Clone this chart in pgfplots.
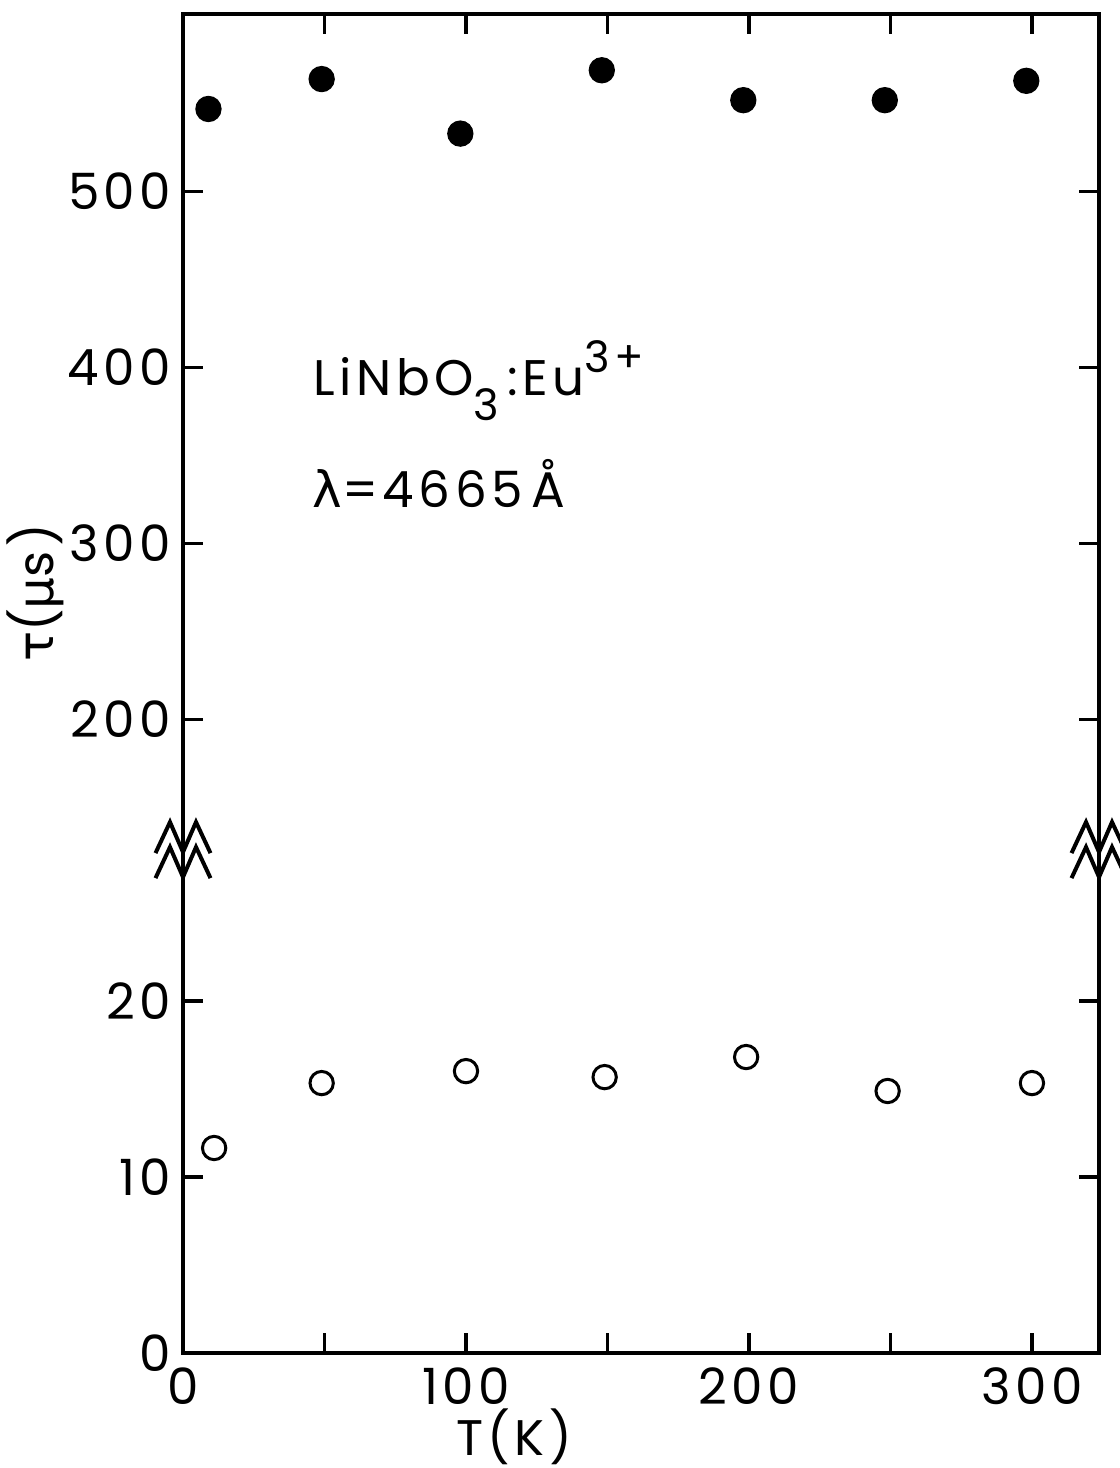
\documentclass[border=0pt]{standalone}
\usepackage{fontspec}
\setmainfont{Poppins}[LetterSpace=9]
\newfontfamily\greek{DejaVu Sans}[LetterSpace=9]
\usepackage{pgfplots}
\usepackage{pgfplotstable}
\pgfplotsset{compat=1.18}

% filled circles: tau in microseconds (upper, broken scale)
\pgfplotstableread{
x y
9 547
49 564
98 533
148 569
198 552
248 552
298 563
}\filledpts
% open circles: tau in microseconds (lower scale)
\pgfplotstableread{
x y
11 11.65
49 15.34
100 16.02
149 15.68
199 16.82
249 14.89
300 15.34
}\openpts

\begin{document}
\begin{tikzpicture}
\begin{axis}[
 scale only axis, width=274.8pt, height=401.7pt,
 xmin=0, xmax=323.7, ymin=0, ymax=76.1,
 axis line style={line width=1.2pt},
 every tick/.style={line width=1pt, black},
 major tick length=6pt,
 tick align=inside,
 xtick={0,50,...,300}, xticklabels={0,,100,,200,,300},
 ytick={0,10,20,36,46,56,66}, yticklabels={0,10,20,200,300,400,500},
 ticklabel style={font=\fontsize{15}{18}\selectfont},
 xticklabel style={yshift=-1pt},
 /pgf/number format/assume math mode=true,
 clip=false,
]
\addplot[only marks, mark=*, mark size=3.75pt, black] table[x=x, y expr=\thisrow{y}/10+16]{\filledpts};
\addplot[only marks, mark=o, mark size=3.5pt, mark options={line width=0.9pt, fill=white}, black] table[x=x, y=y]{\openpts};

\node[anchor=base west, inner sep=0, font=\fontsize{15}{18}\selectfont] at (axis cs:45.9,54.43)
 {LiNbO\raisebox{-7.5pt}{\fontsize{13}{15}\selectfont 3}\,:Eu\raisebox{6.9pt}{\fontsize{13}{15}\selectfont 3+}};
\node[anchor=base west, inner sep=0, font=\fontsize{15}{18}\selectfont] at (axis cs:45.6,48.07)
 {{\greek λ}=4665\,Å};
\node[rotate=90, anchor=center, font=\fontsize{15}{18}\selectfont] at (axis cs:-52.3,43.2)
 {{\greek τ}({\greek μ}s)};
\node[anchor=center, font=\fontsize{15}{18}\selectfont] at (axis cs:117,-4.75) {T(K)};

\coordinate (BL) at (axis cs:0,28.41);
\coordinate (BR) at (axis cs:323.7,28.41);
\coordinate (SW) at (axis cs:0,0);
\end{axis}
\foreach \c in {BL,BR}{
 \begin{scope}[shift={(\c)}, line width=1.2pt, line join=miter]
  \draw (-8.25pt,0pt) -- (-3.9pt,9.3pt) -- (0pt,0.3pt) -- (3.9pt,9.3pt) -- (8.25pt,0pt);
  \draw (-8.25pt,-7.5pt) -- (-3.9pt,1.8pt) -- (0pt,-7.2pt) -- (3.9pt,1.8pt) -- (8.25pt,-7.5pt);
 \end{scope}
}
\pgfresetboundingbox
\path ([shift={(-54.9pt,-34.5pt)}]SW) rectangle ([shift={(281.1pt,405.9pt)}]SW);
\end{tikzpicture}
\end{document}
